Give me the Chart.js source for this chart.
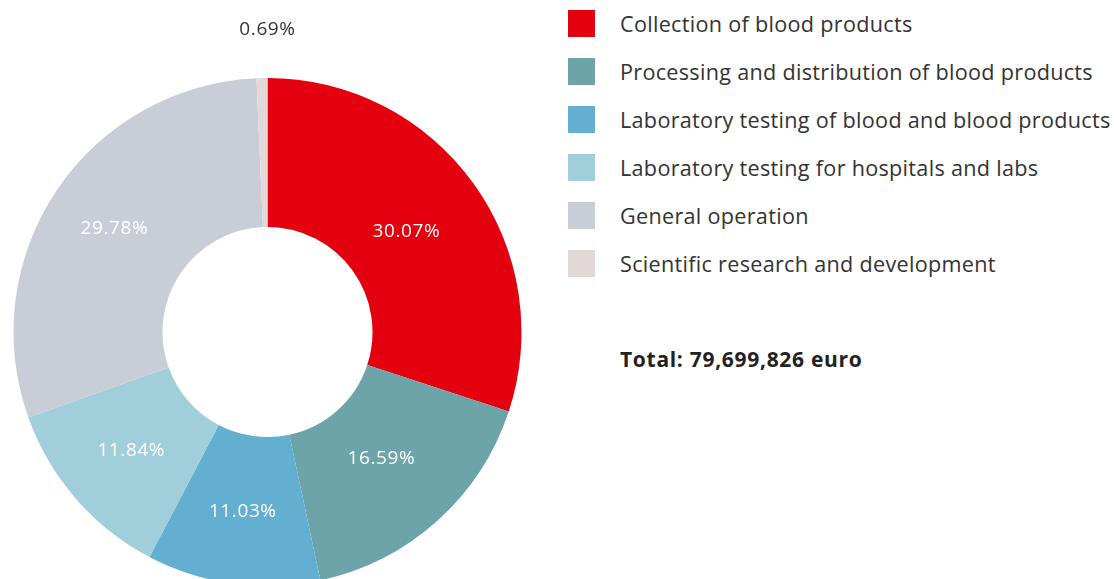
<!DOCTYPE html>
<html>
<head>
<meta charset="utf-8">
<script src="https://cdn.jsdelivr.net/npm/chart.js@4.4.1/dist/chart.umd.min.js"></script>
<style>
  html, body { margin: 0; padding: 0; background: #fff; overflow: hidden; }
  body { width: 1114px; height: 579px; position: relative; font-family: "Open Sans", sans-serif; color: #333; }
  #wrap { position: absolute; left: 0; top: 0; width: 540px; height: 600px; }
  #legend { position: absolute; left: 568px; top: 0; }
  .row { position: absolute; left: 0; height: 27px; white-space: nowrap; }
  .box { position: absolute; left: 0; top: 0; width: 27px; height: 27px; }
  .txt { position: absolute; left: 52px; top: 0; line-height: 27px; font-size: 21.6px; letter-spacing: 0.3px; }
  #total { position: absolute; left: 620px; top: 345px; font-size: 21px; font-weight: bold; letter-spacing: 0.7px; line-height: 28px; color: #222; }
</style>
</head>
<body>
<div id="wrap"><canvas id="donut" width="540" height="600"></canvas></div>
<div id="legend"></div>
<div id="total">Total: 79,699,826 euro</div>

<script>
// ======================
// DATA
// ======================
const categories = [
    "Collection of blood products",
    "Processing and distribution of blood products",
    "Laboratory testing of blood and blood products",
    "Laboratory testing for hospitals and labs",
    "General operation",
    "Scientific research and development"
];
const shares = [30.07, 16.59, 11.03, 11.84, 29.78, 0.69];
const colors = ["#e3000f", "#6da4a9", "#62afd1", "#a0cfdb", "#c9cdd7", "#e3d8d8"];

// radial nudge of each percent label from the ring middle (px)
const labelNudge = [-8, -9, 2, 1, 5, 0];


// ======================
// HTML LEGEND
// ======================
const legend = document.getElementById("legend");
categories.forEach((name, i) => {
    const row = document.createElement("div");
    row.className = "row";
    row.style.top = (10 + i * 48) + "px";
    row.innerHTML = '<div class="box" style="background:' + colors[i] + '"></div><div class="txt">' + name + '</div>';
    legend.appendChild(row);
});


// ======================
// PERCENT LABELS
// ======================
const pctLabels = {
    id: "pctLabels",
    afterDatasetsDraw(chart) {
        const ctx = chart.ctx;
        const meta = chart.getDatasetMeta(0);
        ctx.save();
        ctx.font = '19px "Open Sans", sans-serif';
        ctx.letterSpacing = "0.6px";
        ctx.textAlign = "center";
        ctx.textBaseline = "middle";
        meta.data.forEach((arc, i) => {
            const p = arc.getProps(["x", "y", "startAngle", "endAngle", "innerRadius", "outerRadius"], true);
            const mid = (p.startAngle + p.endAngle) / 2;
            const small = shares[i] < 2;
            const r = small ? p.outerRadius + 48 : (p.innerRadius + p.outerRadius) / 2 + labelNudge[i];
            let x = p.x + Math.cos(mid) * r;
            const y = p.y + Math.sin(mid) * r;
            if (small) x = p.x;
            ctx.fillStyle = small ? "#333" : "#fff";
            ctx.fillText(shares[i].toFixed(2) + "%", x, y);
        });
        ctx.restore();
    }
};


// ======================
// CHART
// ======================
new Chart(document.getElementById("donut"), {
    type: "doughnut",
    data: {
        labels: categories,
        datasets: [{
            data: shares,
            backgroundColor: colors,
            borderWidth: 0,
            hoverOffset: 0
        }]
    },
    options: {
        responsive: false,
        animation: false,
        radius: 254,
        cutout: 105,
        layout: { padding: { left: 13.5, right: 18.5, top: 78, bottom: 14 } },
        plugins: {
            legend: { display: false },
            tooltip: { enabled: false }
        }
    },
    plugins: [pctLabels]
});
</script>
</body>
</html>
